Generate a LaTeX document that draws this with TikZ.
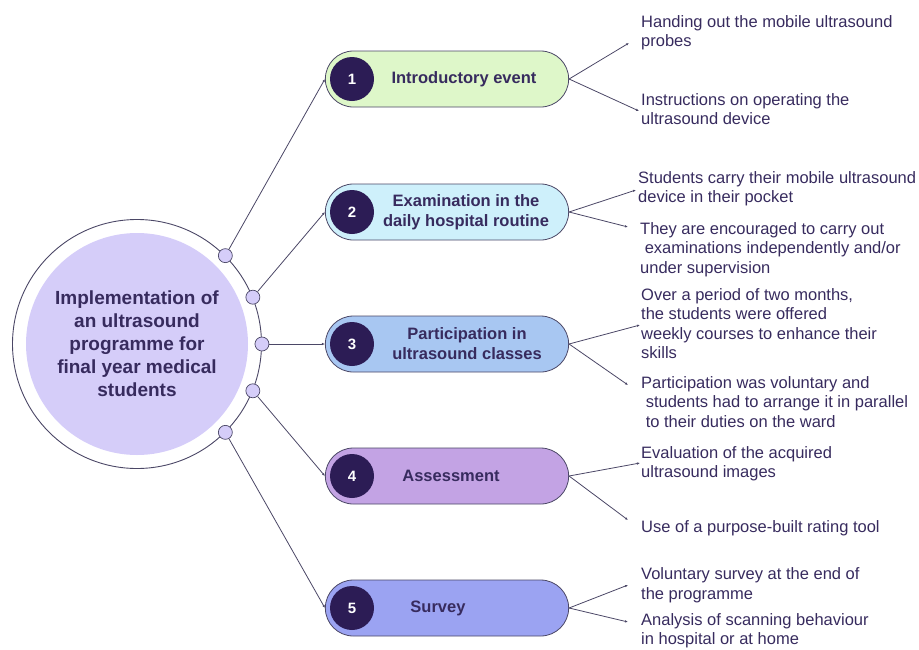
\documentclass[tikz,border=0pt]{standalone}
\usepackage{fontspec}
\setmainfont{Liberation Sans}
\usetikzlibrary{arrows.meta,shapes.misc}

\definecolor{ink}{HTML}{372B5E}
\definecolor{edgegray}{HTML}{4B4766}
\definecolor{hubfill}{HTML}{D5CDF9}
\definecolor{badgefill}{HTML}{2C1C55}
\definecolor{stepA}{HTML}{DEF7C9}
\definecolor{stepB}{HTML}{CEF0FB}
\definecolor{stepC}{HTML}{A8C7F2}
\definecolor{stepD}{HTML}{C3A3E4}
\definecolor{stepE}{HTML}{9BA3F2}

\tikzset{
  pill/.style={rounded rectangle, draw=edgegray, line width=0.8pt, minimum width=250pt, minimum height=56pt},
  badge/.style={circle, fill=badgefill, minimum size=44pt, text=white, font=\bfseries\fontsize{15}{15}\selectfont},
  title/.style={text=ink, align=center, font=\bfseries\fontsize{16.5}{20}\selectfont},
  % base of a note is the baseline of its last line
  note/.style={text=ink, align=left, anchor=base west, inner sep=0pt, font=\fontsize{16.5}{19.5}\selectfont},
  dot/.style={circle, draw=edgegray, fill=hubfill, minimum size=14pt, inner sep=0pt, line width=0.7pt},
  link/.style={draw=edgegray, line width=0.8pt, -{Latex[length=3pt,width=2.5pt]}},
}

\begin{document}
\begin{tikzpicture}[x=1pt,y=-1pt]
  \useasboundingbox (0,0) rectangle (919,649);

  % central hub
  \node[circle, draw=edgegray, line width=0.9pt, minimum size=249pt] (ring) at (137,344) {};
  \node[circle, fill=hubfill, minimum size=222pt, text=ink, align=center,
        font=\bfseries\fontsize{19}{23}\selectfont] (hub) at (137,344)
        {Implementation of\\an ultrasound\\programme for\\final year medical\\students};
  \foreach \a [count=\i] in {45,22.5,0,-22.5,-45}
    \node[dot] (d\i) at (ring.\a) {};

  % the five steps
  \foreach \y/\c [count=\i] in {79/stepA,212/stepB,344/stepC,476/stepD,608/stepE} {
    \node[pill, fill=\c] (b\i) at (447,\y) {};
    \node[badge] (n\i) at (352,\y) {\i};
  }
  \node[title] (l1) at (464,79) {Introductory event};
  \node[title] (l2) at (466,212) {Examination in the\\daily hospital routine};
  \node[title] (l3) at (467,344) {Participation in\\ultrasound classes};
  \node[title] (l4) at (451,476) {Assessment};
  \node[title] (l5) at (438,608) {Survey};

  \foreach \i in {1,...,5}
    \draw[link] (d\i) -- (b\i.west);

  % details on the right
  \coordinate (t1a) at (629,43);  \coordinate (t1b) at (639,111);
  \coordinate (t2a) at (636,190); \coordinate (t2b) at (628,227);
  \coordinate (t3a) at (640,325); \coordinate (t3b) at (628,385);
  \coordinate (t4a) at (640,463); \coordinate (t4b) at (628,520);
  \coordinate (t5a) at (628,585); \coordinate (t5b) at (628,622);
  \foreach \i in {1,...,5} {
    \draw[link] (b\i.east) -- (t\i a);
    \draw[link] (b\i.east) -- (t\i b);
  }

  \node[note] (x1a) at (641,46.5)  {Handing out the mobile ultrasound\\probes};
  \node[note] (x1b) at (641,124.5) {Instructions on operating the\\ultrasound device};
  \node[note] (x2a) at (638,202.5) {Students carry their mobile ultrasound\\device in their pocket};
  \node[note] (x2b) at (640,273)   {They are encouraged to carry out\\\ examinations independently and/or\\under supervision};
  \node[note] (x3a) at (641,358.5) {Over a period of two months,\\the students were offered\\weekly courses to enhance their\\skills};
  \node[note] (x3b) at (641,427)   {Participation was voluntary and\\\ students had to arrange it in parallel\\\ to their duties on the ward};
  \node[note] (x4a) at (641,477.5) {Evaluation of the acquired\\ultrasound images};
  \node[note] (x4b) at (641,532)   {Use of a purpose-built rating tool};
  \node[note] (x5a) at (641,599)   {Voluntary survey at the end of\\the programme};
  \node[note] (x5b) at (641,644.5) {Analysis of scanning behaviour\\in hospital or at home};
\end{tikzpicture}
\end{document}
